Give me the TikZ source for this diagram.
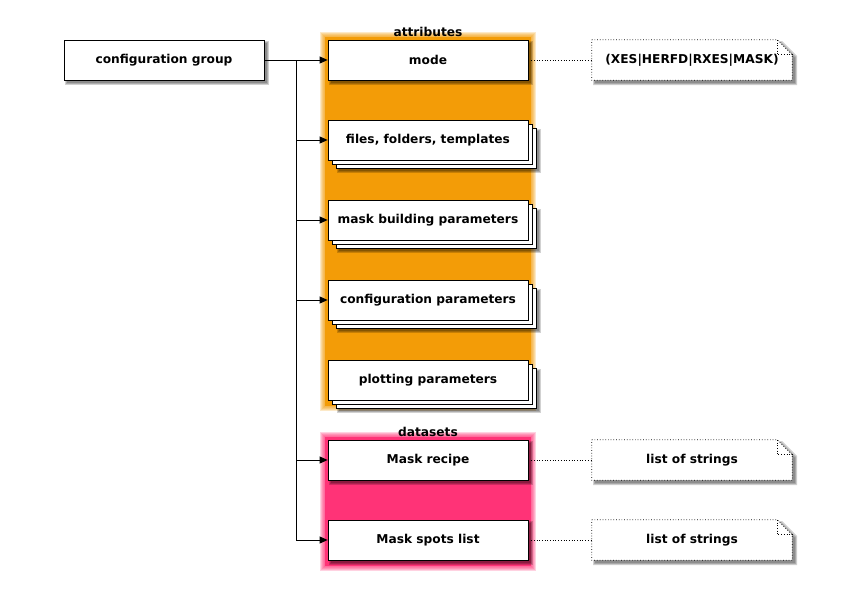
\documentclass[tikz,border=0pt]{standalone}
\usepackage{fontspec}
\setmainfont{DejaVu Sans}
\usetikzlibrary{arrows.meta,calc}
\definecolor{grporange}{HTML}{F39C07}
\definecolor{grppink}{HTML}{FF3377}
\tikzset{
  blk/.style={draw=black, fill=white, line width=0.8pt, minimum width=200pt, minimum height=40pt, inner sep=0pt, font=\bfseries\fontsize{12.2}{14}\selectfont},
  notebox/.style={draw=none, minimum width=200pt, minimum height=40pt, inner sep=0pt, font=\bfseries\fontsize{12.2}{14}\selectfont},
  grplabel/.style={font=\bfseries\fontsize{12.2}{14}\selectfont, inner sep=0pt},
  conn/.style={line width=0.8pt, -{Triangle[length=8pt,width=7pt]}},
  trunk/.style={line width=0.8pt},
  dotconn/.style={line width=0.7pt, dotted},
}
\newcommand{\blurrect}[3]{% color, corner1, corner2
  \foreach \k in {5,4,3,2,1}{
    \fill[#1, opacity=0.22] ($#2+(-\k,-\k)$) rectangle ($#3+(\k,\k)$);
  }
  \fill[#1] #2 rectangle #3;
}
\newcommand{\shadowbox}[2]{% corner1 corner2
  \foreach \k in {2,1,0}{
    \fill[black, opacity=0.18] ($#1+(3-\k,3-\k)$) rectangle ($#2+(3+\k,3+\k)$);
  }
}
\begin{document}
\begin{tikzpicture}[x=1pt,y=-1pt]
\useasboundingbox (0,0) rectangle (856,600);
\fill[white] (0,0) rectangle (856,600);
% groups
\blurrect{grporange}{(325,37)}{(531,406)}
\blurrect{grppink}{(325,437)}{(531,566)}
% shadows
\shadowbox{(64,40)}{(264,80)}
\shadowbox{(328,40)}{(528,80)}
\foreach \yy in {120,200,280,360}{
  \shadowbox{(336,\yy+8)}{(536,\yy+48)}
}
\shadowbox{(328,440)}{(528,480)}
\shadowbox{(328,520)}{(528,560)}
\foreach \yy in {40,440,520}{
  \foreach \k in {2,1,0}{
    \fill[black, opacity=0.18] (595-\k,\yy+3-\k) -- (780+\k,\yy+3-\k) -- (795+\k,\yy+18-\k) -- (795+\k,\yy+43+\k) -- (595-\k,\yy+43+\k) -- cycle;
  }
}
% labels of groups
\node[grplabel] (lattr) at (428,32) {attributes};
\node[grplabel] (ldata) at (428,432) {datasets};
% stacked copies
\foreach \yy in {120,200,280,360}{
  \draw[fill=white, line width=0.8pt] (336,\yy+8) rectangle (536,\yy+48);
  \draw[fill=white, line width=0.8pt] (332,\yy+4) rectangle (532,\yy+44);
}
% nodes
\node[blk] (cg) at (164,60) {configuration group};
\node[blk] (mode) at (428,60) {mode};
\node[blk] (files) at (428,140) {files, folders, templates};
\node[blk] (mbp) at (428,220) {mask building parameters};
\node[blk] (cp) at (428,300) {configuration parameters};
\node[blk] (pp) at (428,380) {plotting parameters};
\node[blk] (mr) at (428,460) {Mask recipe};
\node[blk] (msl) at (428,540) {Mask spots list};
% notes
\node[notebox] (n1) at (692,60) {};
\node[notebox] (n2) at (692,460) {};
\node[notebox] (n3) at (692,540) {};
\foreach \n in {n1,n2,n3}{
  \fill[white] (\n.north west) -- ([xshift=-15pt]\n.north east) -- ([yshift=-15pt]\n.north east) -- (\n.south east) -- (\n.south west) -- cycle;
  \draw[dotconn] (\n.north west) -- ([xshift=-15pt]\n.north east) -- ([yshift=-15pt]\n.north east) -- (\n.south east) -- (\n.south west) -- cycle;
  \draw[dotconn] ([xshift=-15pt]\n.north east) -- ([xshift=-15pt,yshift=-15pt]\n.north east) -- ([yshift=-15pt]\n.north east);
}
\node[notebox] (t1) at (n1) {(XES|HERFD|RXES|MASK)};
\node[notebox] (t2) at (n2) {list of strings};
\node[notebox] (t3) at (n3) {list of strings};
% connectors
\coordinate (tr) at (296,60);
\coordinate (tb) at (296,540);
\draw[trunk] (cg.east) -- (tr) -- (tb);
\draw[conn] (tr) -- (mode.west);
\draw[conn] (files.west -| tr) -- (files.west);
\draw[conn] (mbp.west -| tr) -- (mbp.west);
\draw[conn] (cp.west -| tr) -- (cp.west);
\draw[conn] (mr.west -| tr) -- (mr.west);
\draw[conn] (tb) -- (msl.west);
\draw[dotconn] (mode.east) -- (n1.west);
\draw[dotconn] (mr.east) -- (n2.west);
\draw[dotconn] (msl.east) -- (n3.west);
\end{tikzpicture}
\end{document}
